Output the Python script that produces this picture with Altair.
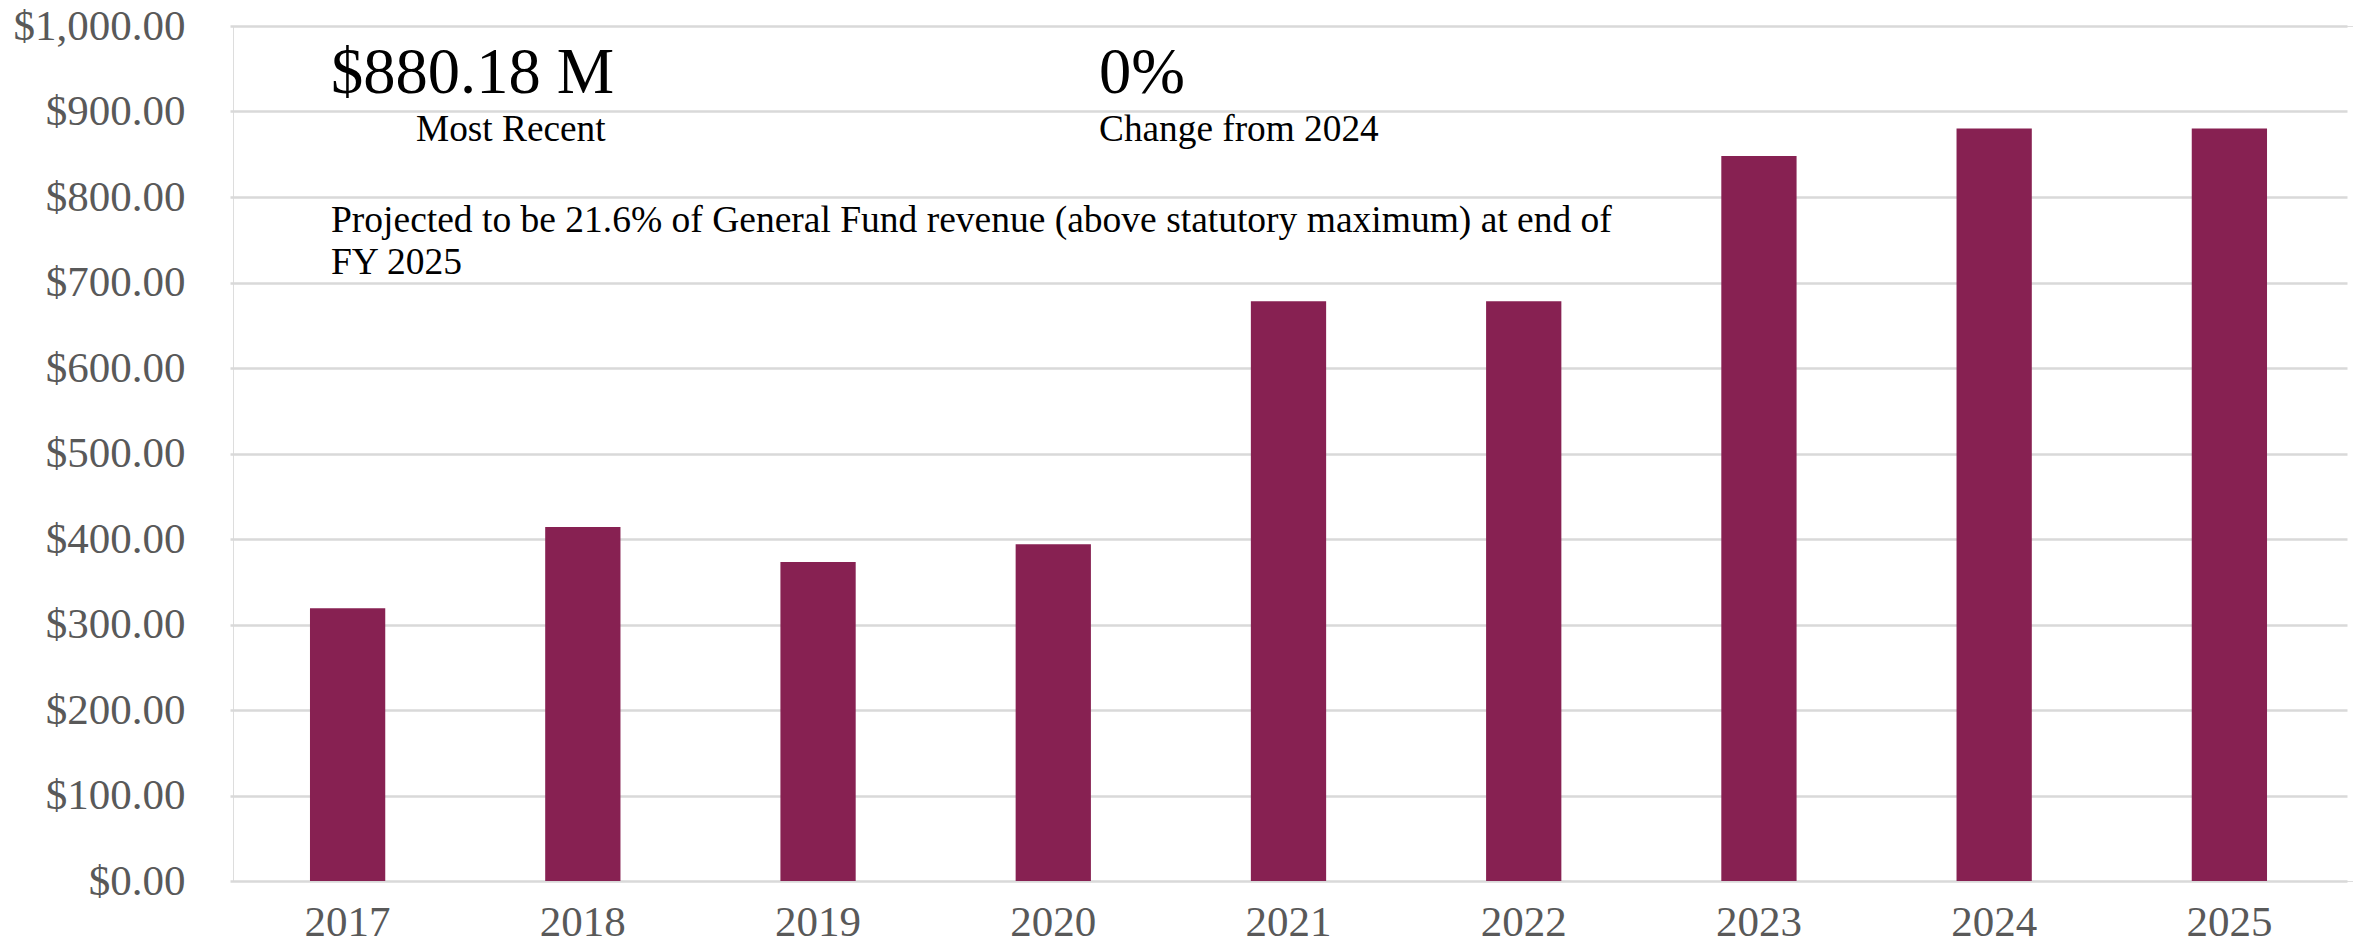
import altair as alt
import pandas as pd

years = ["2017", "2018", "2019", "2020", "2021", "2022", "2023", "2024", "2025"]
values = [319, 414, 373, 394, 678, 678, 848, 880.18, 880.18]

headline_value = ["$880.18 M"]
headline_value_label = ["Most Recent"]
headline_change = ["0%"]
headline_change_label = ["Change from 2024"]
note_lines = ["Projected to be 21.6% of General Fund revenue (above statutory maximum) at end of\nFY 2025"]

FONT = "Liberation Serif"
BAR_COLOR = "#872152"

df = pd.DataFrame({"year": years, "value": values})

bars = alt.Chart(df).mark_bar(color=BAR_COLOR).encode(
    x=alt.X(
        "year:N",
        sort=years,
        title=None,
        scale=alt.Scale(paddingInner=0.68, paddingOuter=0.34, range=[-3, 2114]),
        axis=alt.Axis(
            labelAngle=0,
            labelFont=FONT,
            labelFontSize=43,
            labelColor="#595959",
            labelPadding=20,
            ticks=False,
            domain=False,
            grid=False,
        ),
    ),
    y=alt.Y(
        "value:Q",
        title=None,
        scale=alt.Scale(domain=[0, 1000], nice=False),
        axis=alt.Axis(
            values=list(range(0, 1001, 100)),
            format="$,.2f",
            labelFont=FONT,
            labelFontSize=43,
            labelColor="#595959",
            labelPadding=48,
            ticks=False,
            domain=False,
            grid=True,
            gridColor="#d9d9d9",
            gridWidth=2.5,
        ),
    ),
)


def text_layer(lines, x, y, size, line_height=None):
    kw = dict(font=FONT, fontSize=size, color="#000000", align="left", baseline="alphabetic")
    if line_height is not None:
        kw["lineBreak"] = "\n"
        kw["lineHeight"] = line_height
    return alt.Chart(pd.DataFrame({"t": lines})).mark_text(**kw).encode(
        text="t:N", x=alt.value(x), y=alt.value(y)
    )


big_val = text_layer(headline_value, 98, 67, 64.5)
big_val_lbl = text_layer(headline_value_label, 183, 115, 37.3)
big_chg = text_layer(headline_change, 866, 67, 64.5)
big_chg_lbl = text_layer(headline_change_label, 866, 115, 37.3)
note = text_layer(note_lines, 98, 206, 37.5, line_height=42)

chart = alt.layer(bars, big_val, big_val_lbl, big_chg, big_chg_lbl, note).properties(
    width=2120,
    height=855,
    autosize=alt.AutoSizeParams(type="none"),
    padding={"left": 225, "top": 18, "right": 0, "bottom": 60},
).configure_view(stroke=None).configure(background="white")

chart.save("out.html", embed_options={"renderer": "svg", "actions": False})
